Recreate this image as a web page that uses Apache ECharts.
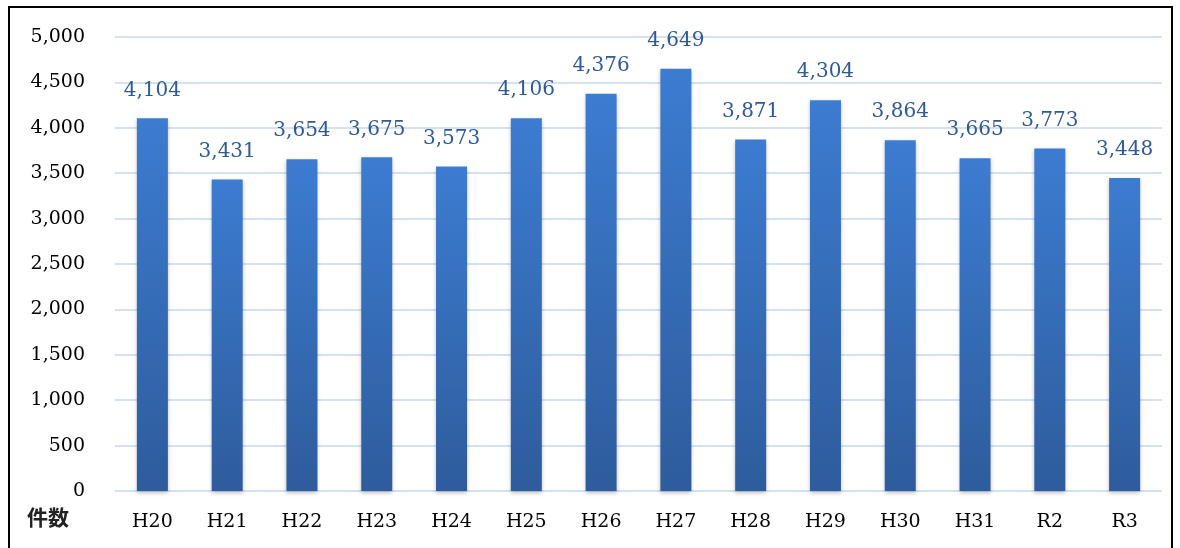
<!DOCTYPE html>
<html><head><meta charset="utf-8">
<script src="https://cdn.jsdelivr.net/npm/echarts@6/dist/echarts.min.js"></script>
<style>html,body{margin:0;padding:0;background:#fff;}#c{width:1180px;height:548px;}</style>
</head><body><div id="c"></div>
<script>
const categories = ['H20','H21','H22','H23','H24','H25','H26','H27','H28','H29','H30','H31','R2','R3'];
const values = [4104,3431,3654,3675,3573,4106,4376,4649,3871,4304,3864,3665,3773,3448];
const yTicks = {min:0, max:5000, interval:500};
const yName = '件数';

const chart = echarts.init(document.getElementById('c'));
chart.setOption({
  animation:false,
  backgroundColor:'#fff',
  grid:{left:115,right:18,top:37,bottom:57},
  graphic:[
    {type:'rect',shape:{x:9,y:7,width:1163,height:570},style:{fill:'none',stroke:'#000',lineWidth:2},z:100},
    {type:'text',left:27,top:507,style:{text:yName,font:'bold 21px "Noto Sans CJK JP"',fill:'#222'}}
  ],
  xAxis:{type:'category',data:categories,
    axisLine:{show:false},axisTick:{show:false},
    axisLabel:{margin:22,color:'#000',fontFamily:'DejaVu Serif',fontSize:19}},
  yAxis:{type:'value',min:yTicks.min,max:yTicks.max,interval:yTicks.interval,
    axisLine:{show:false},axisTick:{show:false},
    splitLine:{lineStyle:{color:'#D5E1F1',width:2}},
    axisLabel:{margin:30,color:'#000',fontFamily:'DejaVu Serif',fontSize:19,
      formatter:v=>v.toLocaleString('en-US')}},
  series:[{type:'bar',data:values,barWidth:31,
    itemStyle:{color:new echarts.graphic.LinearGradient(0,0,0,1,[{offset:0,color:'#3C7CD1'},{offset:1,color:'#2E5C9C'}]),
      shadowColor:'rgba(0,0,0,0.25)',shadowBlur:4,shadowOffsetY:2},
    label:{show:true,position:'top',distance:18,color:'#2E5A96',fontFamily:'DejaVu Serif',fontSize:20,
      formatter:p=>p.value.toLocaleString('en-US')}}]
});
</script></body></html>
